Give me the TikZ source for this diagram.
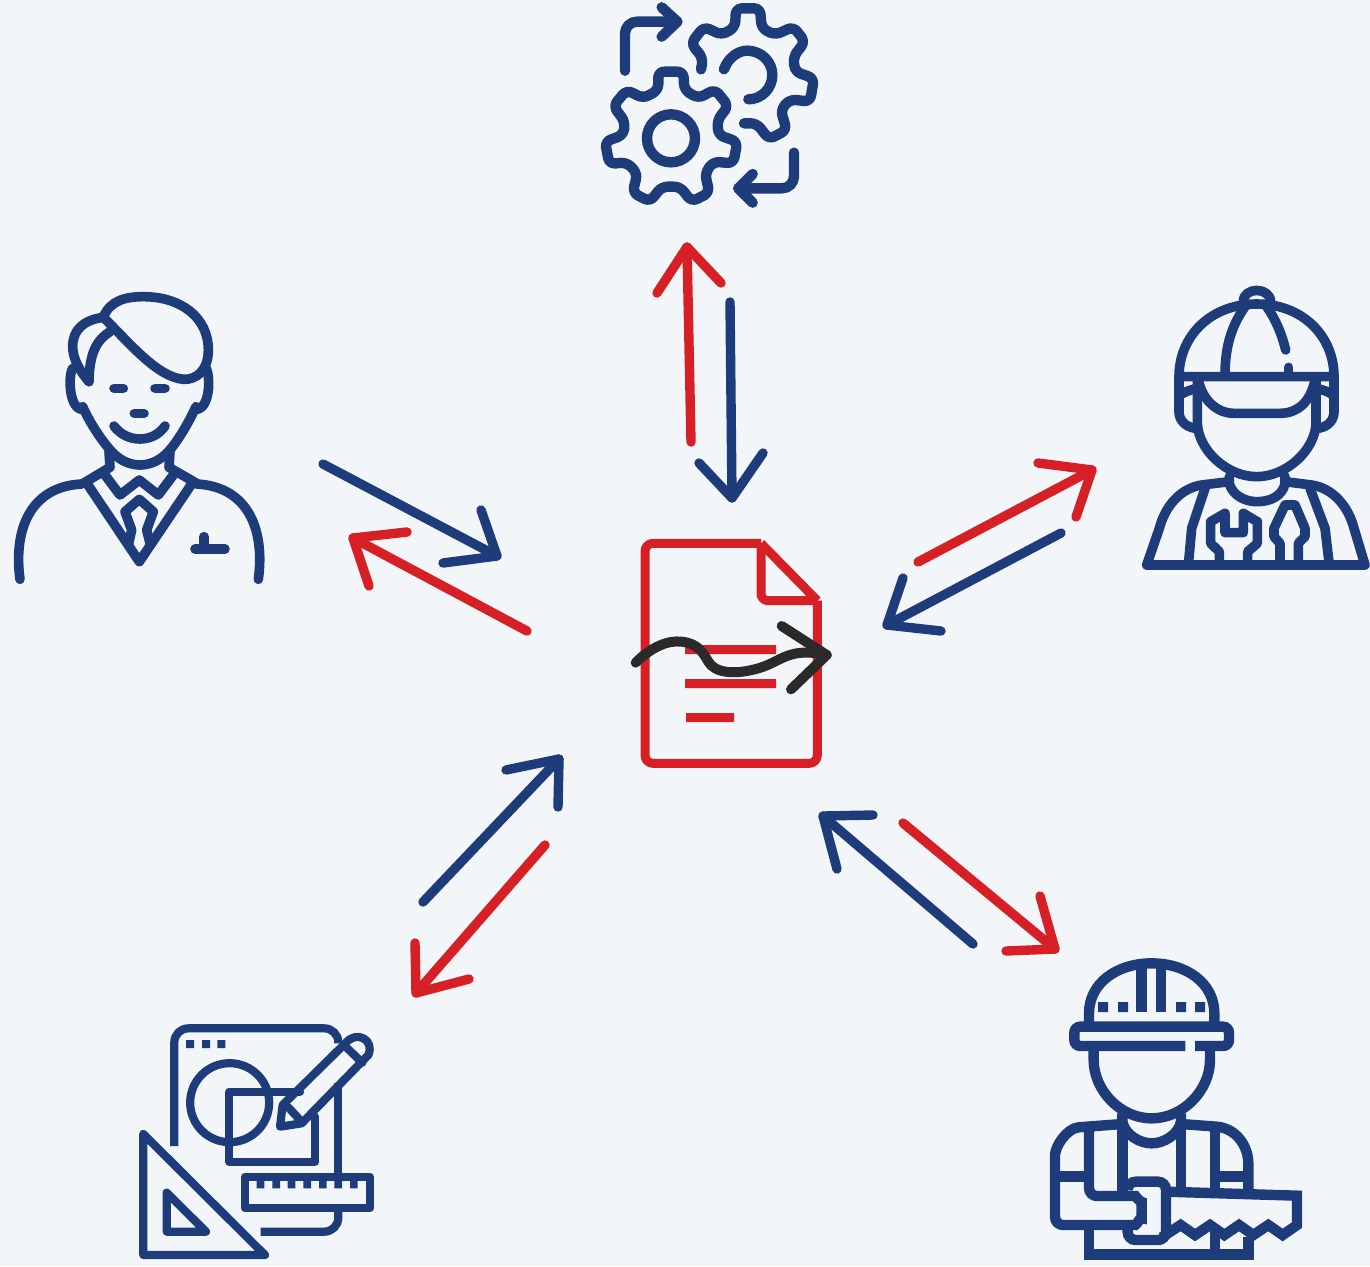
\documentclass[tikz,border=0pt]{standalone}
\definecolor{bgc}{HTML}{F3F6F9}
\definecolor{navy}{HTML}{1E3B7A}
\definecolor{redc}{HTML}{D71F26}
\definecolor{inkc}{HTML}{2A2A2A}
\tikzset{
  icon/.style={draw=navy,line width=9.6pt,line cap=round,line join=round},
  iconb/.style={draw=navy,line width=10.4pt,line cap=butt,line join=miter},
  arrowblue/.style={draw=navy,line width=9.4pt,line cap=round,line join=round},
  arrowred/.style={draw=redc,line width=9.4pt,line cap=round,line join=round},
  zoomed/.style={x=0.33333pt,y=-0.33333pt}
}
\newcommand{\twoway}[6]{%
  \coordinate (tail) at #2; \coordinate (tip) at #3;
  \coordinate (b1) at #4; \coordinate (b2) at #5;
  \draw[#1] (tail) -- (tip);
  \draw[#1] (b1) -- (tip) -- (b2);
}
\begin{document}
\begin{tikzpicture}[x=1pt,y=-1pt]
\useasboundingbox (0,0) rectangle (1370,1266);
\fill[bgc] (0,0) rectangle (1370,1266);

% arrows
\twoway{arrowred}{(691,442)}{(687,247)}{(657,293)}{(721,283)}{}
\twoway{arrowblue}{(730,302)}{(732,498)}{(699,463)}{(763,453)}{}
\twoway{arrowblue}{(323,464)}{(497,556)}{(481,510)}{(443,563)}{}
\twoway{arrowred}{(527,631)}{(353,538)}{(369,586)}{(407,532)}{}
\twoway{arrowred}{(918,562)}{(1092,470)}{(1038,463)}{(1076,517)}{}
\twoway{arrowblue}{(1061,533)}{(887,625)}{(903,578)}{(941,631)}{}
\twoway{arrowblue}{(423,902)}{(559,759)}{(506,770)}{(558,807)}{}
\twoway{arrowred}{(545,845)}{(416,993)}{(415,943)}{(469,979)}{}
\twoway{arrowblue}{(973,944)}{(823,816)}{(873,815)}{(837,869)}{}
\twoway{arrowred}{(903,823)}{(1055,949)}{(1040,896)}{(1006,951)}{}

% document
\begin{scope}[shift={(625,530)},zoomed]
\draw[redc,line width=9pt,line join=round,rounded corners=8pt] (408,40) -- (60,40) -- (60,700) -- (577,700) -- (577,212);
\draw[redc,line width=9pt,line join=round] (577,212) -- (408,40);
\draw[redc,line width=9pt,line join=round,rounded corners=7pt] (408,40) -- (408,212) -- (577,212);
\fill[redc] (180,345) rectangle (453,372) (180,447) rectangle (453,474) (183,549) rectangle (327,576);
\draw[inkc,line width=10pt,line cap=round,line join=round] (32,398) .. controls (80,350) and (130,330) .. (170,335) .. controls (220,340) and (235,370) .. (250,395) .. controls (270,430) and (330,435) .. (400,415) .. controls (470,395) and (490,350) .. (605,375);
\draw[inkc,line width=10pt,line cap=round,line join=round] (470,288) -- (605,375) -- (498,478);
\end{scope}

% person
\begin{scope}[shift={(0,280)},zoomed]
\draw[icon] (310,112) .. controls (330,60) and (380,50) .. (430,50) .. controls (540,50) and (625,110) .. (625,210) .. controls (625,270) and (590,300) .. (550,298) .. controls (470,290) and (390,190) .. (310,112) -- cycle;
\draw[icon] (310,112) .. controls (250,120) and (218,150) .. (218,200) .. controls (218,240) and (245,280) .. (267,305);
\draw[icon] (330,155) .. controls (290,180) and (268,220) .. (267,305);
\draw[icon] (218,265) .. controls (203,290) and (208,392) .. (250,388);
\draw[icon] (618,265) .. controls (633,290) and (630,392) .. (585,388);
\draw[icon] (248,380) .. controls (270,430) and (310,490) .. (340,520) .. controls (365,545) and (395,555) .. (420,555) .. controls (445,555) and (475,545) .. (500,520) .. controls (530,490) and (565,430) .. (588,380);
\draw[icon] (342,325) -- (370,325) (465,325) -- (495,325) (403,400) -- (432,400);
\draw[icon] (342,438) .. controls (380,490) and (460,490) .. (495,438);
\draw[icon] (327,515) -- (330,562) -- (250,610);
\draw[icon] (510,515) -- (507,562) -- (590,610);
\draw[icon] (60,898) .. controls (40,750) and (90,620) .. (245,612);
\draw[icon] (775,898) .. controls (795,750) and (745,620) .. (590,612);
\draw[icon] (262,612) -- (418,845) -- (575,612);
\draw[icon] (315,585) -- (360,645) -- (418,600) -- (475,645) -- (520,585);
\draw[icon] (385,795) -- (395,750) -- (375,695) -- (418,658) -- (460,695) -- (440,750) -- (450,790);
\draw[icon] (585,807) -- (675,807) (612,770) -- (612,807);
\end{scope}

% gears
\begin{scope}[shift={(590,0)},zoomed]
\tikzset{icon/.append style={line width=10.4pt}}
\draw[icon,rounded corners=6pt] (205,270) -- (205,215) -- (280,215) -- (283,270) -- (325,295) -- (375,268) -- (415,318) -- (382,360) -- (385,405) -- (442,425) -- (430,490) -- (370,485) -- (345,520) -- (358,578) -- (305,605) -- (270,560) -- (215,560) -- (180,605) -- (128,578) -- (142,520) -- (110,487) -- (58,492) -- (45,425) -- (100,405) -- (105,365) -- (70,318) -- (110,270) -- (160,295) -- cycle;
\draw[icon] (243,415) circle[radius=24pt];
\draw[icon,rounded corners=6pt] (333,208) -- (339,175) -- (303,130) -- (342,80) -- (395,105) -- (435,82) -- (438,25) -- (510,25) -- (515,85) -- (555,105) -- (610,80) -- (645,125) -- (610,170) -- (615,215) -- (672,235) -- (660,305) -- (600,298) -- (572,330) -- (590,390) -- (537,418) -- (500,370) -- (462,370);
\draw[icon] (402,208) .. controls (415,170) and (450,150) .. (475,152) .. controls (520,155) and (547,190) .. (547,225) .. controls (547,265) and (515,298) .. (475,298);
\draw[icon,rounded corners=12pt] (105,212) -- (105,65) -- (262,65);
\draw[icon] (215,22) -- (262,65) -- (215,110);
\draw[icon,rounded corners=12pt] (612,458) -- (612,565) -- (445,565);
\draw[icon] (488,522) -- (445,565) -- (488,608);
\end{scope}

% mechanic
\begin{scope}[shift={(1130,280)},zoomed]
\draw[icon] (147,290) .. controls (147,170) and (240,72) .. (380,72) .. controls (520,72) and (612,170) .. (612,290) -- cycle;
\draw[icon] (147,290) -- (147,395) .. controls (147,420) and (165,440) .. (195,445);
\draw[icon] (612,290) -- (612,395) .. controls (612,420) and (595,440) .. (565,445);
\draw[icon] (150,345) .. controls (165,335) and (180,330) .. (200,325);
\draw[icon] (610,345) .. controls (595,335) and (580,330) .. (560,325);
\draw[icon] (202,295) -- (202,430) .. controls (205,510) and (290,590) .. (380,590) .. controls (470,590) and (555,510) .. (558,430) -- (558,295);
\draw[icon] (205,300) .. controls (220,370) and (270,400) .. (310,400) -- (450,400) .. controls (500,400) and (540,370) .. (555,300);
\draw[icon] (340,65) .. controls (340,20) and (420,20) .. (422,65);
\draw[icon] (345,80) .. controls (310,130) and (285,190) .. (285,285);
\draw[icon] (410,80) .. controls (435,115) and (455,160) .. (467,210);
\draw[icon] (476,262) -- (476,285);
\draw[icon] (50,855) -- (705,855) -- (672,745) .. controls (655,680) and (610,625) .. (545,615) -- (465,605);
\draw[icon] (50,855) -- (88,745) .. controls (105,680) and (150,625) .. (215,615) -- (298,605);
\draw[icon] (298,590) -- (298,612) .. controls (310,650) and (350,665) .. (380,665) .. controls (420,665) and (455,650) .. (465,612) -- (465,590);
\draw[icon] (225,625) -- (185,745) -- (175,855);
\draw[icon] (540,625) -- (585,745) -- (598,855);
\draw[icon] (268,855) -- (268,815) -- (242,790) -- (242,725) -- (285,700) -- (285,758) -- (340,758) -- (340,700) -- (382,725) -- (382,790) -- (353,815) -- (353,855);
\draw[icon] (450,855) -- (450,790) -- (432,770) -- (432,745) -- (465,675) -- (495,675) -- (525,745) -- (525,770) -- (505,790) -- (505,855);
\end{scope}

% drawing tools
\begin{scope}[shift={(130,1020)},zoomed]
\tikzset{icon/.append style={line width=8.2pt}}
\draw[iconb,line width=8.2pt,rounded corners=14pt] (133,378) -- (133,25) -- (625,25) -- (625,70);
\draw[iconb,line width=8.2pt] (625,190) -- (625,470);
\draw[iconb,line width=8.2pt,rounded corners=14pt] (625,575) -- (625,635) -- (392,635);
\fill[navy] (168,60) rectangle (192,84) (216,60) rectangle (240,84) (262,60) rectangle (286,84);
\draw[icon] (299,248) circle[radius=39.5pt];
\draw[icon] (510,215) -- (298,215) -- (298,425) -- (555,425) -- (555,290);
\draw[icon] (450,320) -- (515,310) -- (715,105) .. controls (735,60) and (680,30) .. (648,68) -- (458,255) -- cycle;
\draw[icon] (652,85) -- (697,128);
\draw[icon] (475,262) -- (510,300);
\draw[icon] (345,470) rectangle (720,565);
\fill[navy] (380,482) rectangle (403,505) (427,482) rectangle (450,505) (473,482) rectangle (496,505) (520,482) rectangle (543,505) (567,482) rectangle (590,505) (613,482) rectangle (636,505) (660,482) rectangle (683,505);
\draw[icon] (40,342) -- (40,705) -- (405,705) -- cycle;
\draw[icon] (110,518) -- (110,635) -- (228,635) -- cycle;
\end{scope}

% builder
\begin{scope}[shift={(1040,950)},zoomed]
\draw[iconb] (147,225) -- (147,190) .. controls (147,100) and (230,40) .. (335,40) .. controls (440,40) and (523,100) .. (523,190) -- (523,225);
\draw[iconb,rounded corners=6pt] (436,288) -- (103,288) -- (103,230) -- (567,230) -- (567,288) -- (465,288);
\draw[iconb] (305,50) -- (305,187) (363,50) -- (363,187);
\fill[navy] (174,156) rectangle (204,186) (234,156) rectangle (264,186) (408,156) rectangle (438,186) (465,156) rectangle (495,186);
\draw[iconb] (161,290) -- (161,330) .. controls (161,420) and (240,505) .. (335,505) .. controls (430,505) and (510,420) .. (510,330) -- (510,290);
\draw[iconb] (247,490) -- (247,515) .. controls (255,555) and (300,580) .. (335,580) .. controls (370,580) and (415,555) .. (423,515) -- (423,490);
\draw[iconb,rounded corners=8pt] (247,522) -- (140,530) .. controls (80,535) and (45,590) .. (45,640) -- (45,825) -- (262,825) .. controls (290,825) and (305,795) .. (305,780) .. controls (305,760) and (285,738) .. (262,738) -- (147,738) -- (147,530);
\draw[iconb] (423,522) -- (530,530) .. controls (590,535) and (625,590) .. (625,640) -- (625,722);
\draw[iconb] (45,680) -- (147,680) (525,680) -- (625,680) (525,530) -- (525,725);
\draw[iconb] (247,530) -- (247,725) (423,515) -- (423,715);
\draw[iconb] (147,825) -- (147,913) -- (625,913) -- (625,860) (525,840) -- (525,913);
\draw[iconb,rounded corners=8pt] (263,715) -- (263,695) -- (378,695) -- (378,870) -- (263,870) -- (263,825);
\draw[iconb] (378,725) -- (771,737) -- (771,825) -- (728,855) -- (685,825) -- (640,855) -- (597,825) -- (553,855) -- (510,825) -- (465,855) -- (422,825) -- (365,862);
\end{scope}
\end{tikzpicture}
\end{document}
